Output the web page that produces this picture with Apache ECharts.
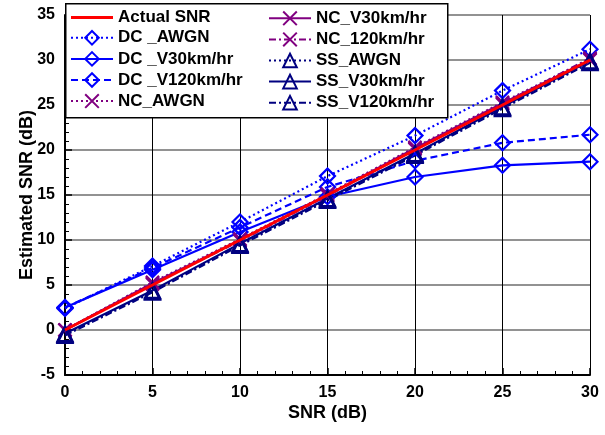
<!DOCTYPE html>
<html>
<head>
<meta charset="utf-8">
<script src="https://cdn.jsdelivr.net/npm/echarts@6/dist/echarts.min.js"></script>
<style>
  html, body { margin: 0; padding: 0; background: #fff; }
  #chart { width: 605px; height: 435px; }
</style>
</head>
<body>
<div id="chart"></div>
<script>
// SNR sweep (dB)
const snr = [0, 5, 10, 15, 20, 25, 30];

// Estimated SNR per estimator / channel
const actualSNR   = [0, 5, 10, 15, 20, 25, 30];
const dcAWGN      = [2.4, 7.1, 12.0, 17.1, 21.6, 26.6, 31.2];
const dcV30       = [2.5, 6.7, 10.9, 14.8, 17.0, 18.3, 18.7];
const dcV120      = [2.5, 6.9, 11.4, 15.9, 18.8, 20.8, 21.7];
const ncAWGN      = [0, 5.3, 10.1, 15.1, 20.3, 25.3, 30.1];
const ncV30       = [0, 5.2, 10.0, 15.0, 20.2, 25.2, 30.0];
const nc120       = [0, 5.1, 9.9, 14.9, 20.1, 25.1, 30.2];
const ssAWGN      = [-0.5, 4.3, 9.5, 14.5, 19.5, 24.7, 29.8];
const ssV30       = [-0.4, 4.4, 9.6, 14.6, 19.6, 24.8, 29.9];
const ssV120      = [-0.6, 4.2, 9.4, 14.4, 19.4, 24.6, 29.7];

const xTicks = { min: 0, max: 30, interval: 5 };
const yTicks = { min: -5, max: 35, interval: 5 };

const FONT = '"Liberation Sans", Arial, sans-serif';
const BLUE = '#0000ff', PURPLE = '#800080', NAVY = '#000080', RED = '#ff0000';
const CROSS = 'path://M0,0L10,10M10,0L0,10';

function pts(ys) { return snr.map((x, i) => [x, ys[i]]); }

function mk(name, ys, color, type, symbol, size, z) {
  return {
    name, type: 'line', data: pts(ys), z: z || 3,
    symbol: symbol || 'none', symbolSize: size || 14,
    showSymbol: !!symbol,
    lineStyle: { color, width: 2.2, type },
    itemStyle: { color: 'none', borderColor: color, borderWidth: 2.2 },
    emphasis: { disabled: true }, animation: false
  };
}

const dot = [2, 3];
const dash = [7, 4];
const dashDot = [7, 3, 2, 3];

const series = [
  Object.assign(mk('Actual SNR', actualSNR, RED, 'solid', null, 0, 10),
    { lineStyle: { color: RED, width: 3 } }),
  mk('DC _AWGN', dcAWGN, BLUE, dot, 'diamond', 15),
  mk('DC _V30km/hr', dcV30, BLUE, 'solid', 'diamond', 15),
  mk('DC _V120km/hr', dcV120, BLUE, dash, 'diamond', 15),
  mk('NC_AWGN', ncAWGN, PURPLE, dot, CROSS, 13),
  mk('NC_V30km/hr', ncV30, PURPLE, 'solid', CROSS, 13),
  mk('NC_120km/hr', nc120, PURPLE, dashDot, CROSS, 13),
  mk('SS_AWGN', ssAWGN, NAVY, dot, 'triangle', 15),
  mk('SS_V30km/hr', ssV30, NAVY, 'solid', 'triangle', 15),
  mk('SS_V120km/hr', ssV120, NAVY, dashDot, 'triangle', 15)
];

const legendCommon = {
  orient: 'vertical', itemWidth: 42, itemHeight: 17, itemGap: 2.5,
  textStyle: { fontFamily: FONT, fontWeight: 'bold', fontSize: 17, color: '#000' },
  selectedMode: false, z: 20
};

const chart = echarts.init(document.getElementById('chart'), null, { renderer: 'canvas' });
chart.setOption({
  animation: false,
  backgroundColor: '#fff',
  grid: { left: 65, right: 15, top: 15, bottom: 60 },
  graphic: [{
    type: 'rect', z: 15, left: 65, top: 3,
    shape: { width: 382, height: 114 },
    style: { fill: '#fff', stroke: '#000', lineWidth: 1.5 }
  }],
  legend: [
    Object.assign({ left: 65, top: 4,
      data: [
        { name: 'Actual SNR', icon: 'path://M0,0H44V3H0Z', itemStyle: { color: RED, borderWidth: 0 } },
        'DC _AWGN', 'DC _V30km/hr', 'DC _V120km/hr', 'NC_AWGN'] }, legendCommon),
    Object.assign({ left: 263, top: 4,
      data: ['NC_V30km/hr', 'NC_120km/hr', 'SS_AWGN', 'SS_V30km/hr', 'SS_V120km/hr'] }, legendCommon)
  ],
  xAxis: {
    type: 'value', min: xTicks.min, max: xTicks.max, interval: xTicks.interval,
    name: 'SNR (dB)', nameLocation: 'middle', nameGap: 29, nameMoveOverlap: false,
    nameTextStyle: { fontFamily: FONT, fontWeight: 'bold', fontSize: 18, color: '#000' },
    axisLine: { show: true, onZero: false, lineStyle: { color: '#000', width: 2 } },
    axisTick: { show: true, inside: true, length: 7, lineStyle: { color: '#000', width: 1.5 } },
    minorTick: { show: true, splitNumber: 5, length: 4, lineStyle: { color: '#000', width: 1 } },
    axisLabel: { fontFamily: FONT, fontWeight: 'bold', fontSize: 16, color: '#000', margin: 10 },
    splitLine: { show: true, lineStyle: { color: '#000', width: 1 } }
  },
  yAxis: {
    type: 'value', min: yTicks.min, max: yTicks.max, interval: yTicks.interval,
    name: 'Estimated SNR (dB)', nameLocation: 'middle', nameGap: 29, nameMoveOverlap: false,
    nameTextStyle: { fontFamily: FONT, fontWeight: 'bold', fontSize: 18, color: '#000' },
    axisLine: { show: true, onZero: false, lineStyle: { color: '#000', width: 2 } },
    axisTick: { show: true, inside: true, length: 7, lineStyle: { color: '#000', width: 1.5 } },
    minorTick: { show: true, splitNumber: 5, length: 4, lineStyle: { color: '#000', width: 1 } },
    axisLabel: { fontFamily: FONT, fontWeight: 'bold', fontSize: 16, color: '#000', margin: 10 },
    splitLine: { show: true, lineStyle: { color: '#6e6e6e', width: 1.5 } }
  },
  series
});
</script>
</body>
</html>
